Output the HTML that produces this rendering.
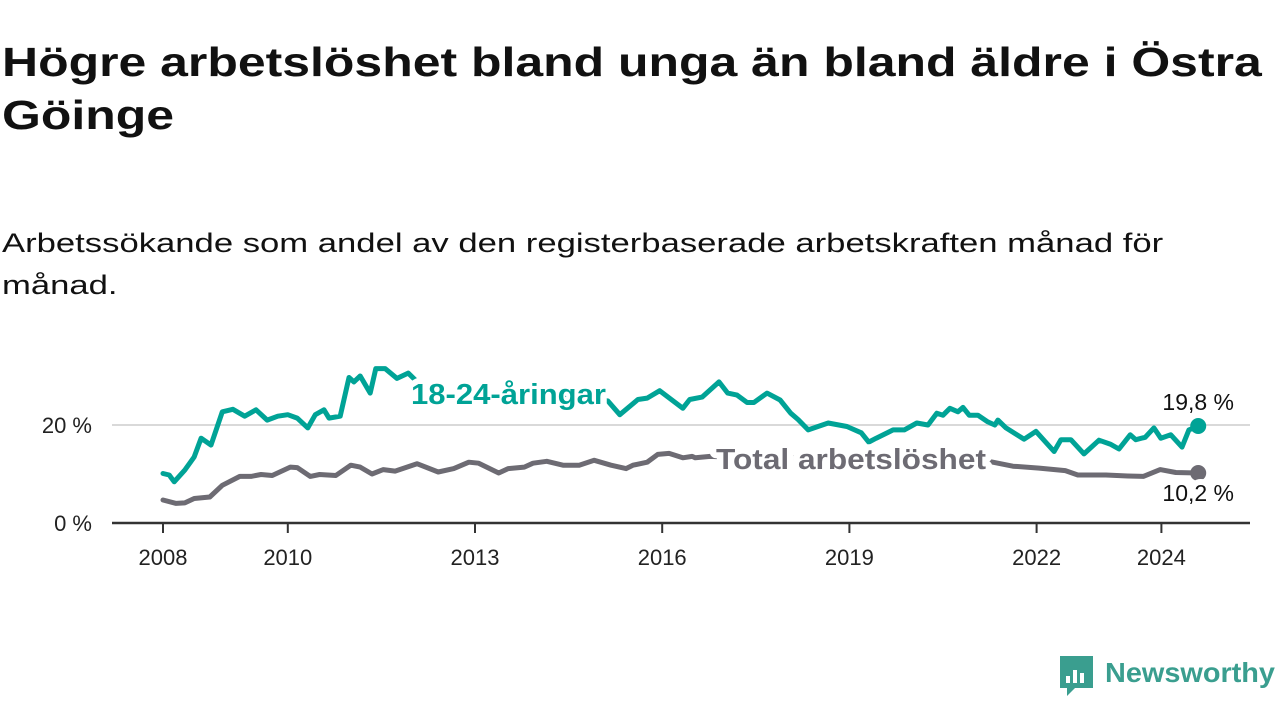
<!DOCTYPE html>
<html><head><meta charset="utf-8">
<style>
body{margin:0;width:1280px;height:720px;background:#fff;overflow:hidden;font-family:"Liberation Sans",sans-serif;color:#111;}
#title{position:absolute;left:2px;top:36px;font-size:41px;font-weight:bold;line-height:53px;margin:0;white-space:nowrap;transform:scaleX(1.218);transform-origin:0 0}
#sub{position:absolute;left:2px;top:222px;font-size:27px;line-height:42px;margin:0;white-space:nowrap;transform:scaleX(1.283);transform-origin:0 0}
svg{position:absolute;left:0;top:0}
</style></head><body>
<h1 id="title">Högre arbetslöshet bland unga än bland äldre i Östra<br>Göinge</h1>
<p id="sub">Arbetssökande som andel av den registerbaserade arbetskraften månad för<br>månad.</p>
<svg id="chart" width="1280" height="720"></svg>
<script>
const youthDates=[2008.0,2008.1,2008.18,2008.35,2008.5,2008.61,2008.77,2008.95,2009.12,2009.31,2009.49,2009.67,2009.84,2010.0,2010.15,2010.32,2010.44,2010.58,2010.66,2010.84,2010.98,2011.06,2011.16,2011.32,2011.41,2011.56,2011.75,2011.93,2012.3,2012.8,2013.3,2013.8,2014.3,2014.8,2015.13,2015.32,2015.61,2015.76,2015.96,2016.33,2016.44,2016.64,2016.91,2017.05,2017.2,2017.36,2017.47,2017.68,2017.89,2018.06,2018.18,2018.34,2018.66,2018.96,2019.19,2019.31,2019.43,2019.7,2019.88,2020.08,2020.26,2020.4,2020.5,2020.61,2020.74,2020.82,2020.92,2021.06,2021.21,2021.33,2021.38,2021.51,2021.8,2021.99,2022.28,2022.39,2022.55,2022.76,2023.0,2023.18,2023.32,2023.5,2023.59,2023.74,2023.88,2023.99,2024.15,2024.33,2024.44,2024.59];
const youthValues=[10.1,9.8,8.4,10.8,13.5,17.3,15.9,22.7,23.2,21.8,23.1,21.0,21.8,22.1,21.4,19.4,22.1,23.1,21.4,21.8,29.7,28.8,30.0,26.5,31.5,31.5,29.5,30.6,26,25.5,25.5,25.5,25.5,25.5,24.9,22.1,25.2,25.5,27.0,23.4,25.2,25.7,28.8,26.5,26.1,24.6,24.6,26.5,25.1,22.4,21.1,19.0,20.4,19.7,18.4,16.5,17.3,19.0,19.0,20.4,20.0,22.4,22.0,23.4,22.7,23.6,22.0,22.0,20.7,20.0,21.0,19.4,17.1,18.7,14.6,17.0,17.0,14.1,16.9,16.1,15.1,18.0,17.0,17.5,19.4,17.3,18.0,15.5,19.0,19.8];
const totalDates=[2008.0,2008.21,2008.35,2008.5,2008.75,2008.95,2009.23,2009.41,2009.57,2009.75,2010.04,2010.15,2010.36,2010.51,2010.77,2011.01,2011.16,2011.35,2011.53,2011.72,2012.07,2012.41,2012.66,2012.9,2013.06,2013.38,2013.53,2013.79,2013.93,2014.15,2014.41,2014.67,2014.91,2015.18,2015.42,2015.53,2015.76,2015.93,2016.11,2016.33,2016.48,2016.53,2016.77,2017.3,2017.9,2018.5,2019.0,2019.5,2020.0,2020.5,2021.0,2021.27,2021.62,2022.04,2022.46,2022.66,2023.11,2023.46,2023.71,2023.98,2024.23,2024.59];
const totalValues=[4.7,4.0,4.1,5.0,5.3,7.7,9.5,9.5,9.9,9.7,11.4,11.3,9.5,9.9,9.7,11.8,11.4,10.0,10.9,10.6,12.1,10.4,11.1,12.4,12.2,10.2,11.1,11.4,12.2,12.6,11.8,11.8,12.8,11.8,11.1,11.8,12.4,14.0,14.2,13.3,13.6,13.3,13.6,13.3,13.3,13.3,13.3,13.3,13.3,13.3,13.0,12.5,11.6,11.2,10.7,9.8,9.8,9.6,9.5,10.9,10.3,10.2];
const xTicks=[2008,2010,2013,2016,2019,2022,2024];
const yTicks=[0,20];
const yTickLabels=["0 %","20 %"];

const NS="http://www.w3.org/2000/svg";
const svg=document.getElementById('chart');
const X=y=>163+(y-2008)*62.4;
const Y=v=>523-v*4.9;
function el(tag,attrs,parent){const e=document.createElementNS(NS,tag);for(const k in attrs)e.setAttribute(k,attrs[k]);(parent||svg).appendChild(e);return e;}

yTicks.forEach((t,i)=>{
  if(t>0){const g=el('line',{x1:112,x2:1250,y1:Y(t),y2:Y(t),stroke:'#d9d9d9','stroke-width':2});
  
  }
  const l=el('text',{x:92,y:Y(t)+8,'text-anchor':'end','font-size':22,fill:'#222'});
  l.textContent=yTickLabels[i];
  
  
});
const ax=el('line',{x1:112,x2:1250,y1:523,y2:523,stroke:'#333','stroke-width':2.5});


xTicks.forEach(t=>{
  const tk=el('line',{x1:X(t),x2:X(t),y1:523,y2:533,stroke:'#333','stroke-width':2});
  
  
  const l=el('text',{x:X(t),y:565,'text-anchor':'middle','font-size':22,fill:'#222'});
  l.textContent=t;
  
  
});
function series(dates,vals,color,name){
  const d=dates.map((t,i)=>(i?'L':'M')+X(t).toFixed(1)+','+Y(vals[i]).toFixed(1)).join('');
  const p=el('path',{d:d,fill:'none',stroke:color,'stroke-width':5,'stroke-linejoin':'round','stroke-linecap':'round'});
  
  
  const n=dates.length-1;
  const c=el('circle',{cx:X(dates[n]),cy:Y(vals[n]),r:8,fill:color});
  
  
}
series(totalDates,totalValues,'#6d6b73','total');
series(youthDates,youthValues,'#00a396','youth');

function label(txt,x,y,color,name,size,weight,w){
  const t=el('text',{x:x,y:y,fill:color,'font-size':size,'font-weight':weight,stroke:'#fff','stroke-width':12,'paint-order':'stroke','stroke-linejoin':'round'});
  if(w){t.setAttribute('textLength',w);t.setAttribute('lengthAdjust','spacingAndGlyphs');}
  t.textContent=txt;
  
  
  return t;
}
label('18-24-åringar',411,404,'#00a396','youth-series-label',29,'bold',195);
label('Total arbetslöshet',716,469,'#6d6b73','total-series-label',29,'bold',270);
const yn=youthValues.length-1, tn=totalValues.length-1;
const v1=label(youthValues[yn].toFixed(1).replace('.',',')+' %',X(youthDates[yn]),410,'#111','youth-end-value',23,'normal');
v1.setAttribute('text-anchor','middle');
const v2=label(totalValues[tn].toFixed(1).replace('.',',')+' %',X(totalDates[tn]),501,'#111','total-end-value',23,'normal');
v2.setAttribute('text-anchor','middle');
</script>
<svg width="1280" height="720" style="pointer-events:none">
  <path d="M1060 656h33v32h-18l-8 8v-8h-7z" fill="#3a9e8f"/>
  <rect x="1066" y="676" width="4" height="7" fill="#fff"/>
  <rect x="1073" y="670" width="4" height="13" fill="#fff"/>
  <rect x="1080" y="673" width="4" height="10" fill="#fff"/>
  <text x="1105" y="682" font-size="28" font-weight="bold" fill="#3a9e8f" font-family="Liberation Sans, sans-serif" textLength="170" lengthAdjust="spacingAndGlyphs">Newsworthy</text>
</svg>
</body></html>
